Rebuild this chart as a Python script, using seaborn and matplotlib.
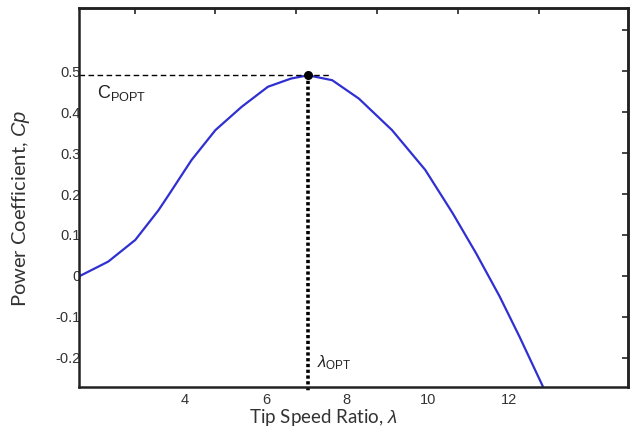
import numpy as np
import pandas as pd
import matplotlib
matplotlib.use("Agg")
import matplotlib.pyplot as plt
import seaborn as sns

# Cp - lambda curve
tsr = [1.40, 2.10, 2.77, 3.34, 3.59, 4.16, 4.75, 5.40, 6.05, 6.62, 7.04,
       7.64, 8.30, 9.12, 9.94, 10.62, 11.20, 11.78, 12.27, 12.85]
cp = [0.000, 0.035, 0.088, 0.160, 0.197, 0.283, 0.356, 0.413, 0.462, 0.482, 0.490,
      0.478, 0.433, 0.356, 0.259, 0.153, 0.055, -0.050, -0.148, -0.270]

x_ticks = [4, 6, 8, 10, 12]
y_ticks = [-0.2, -0.1, 0, 0.1, 0.2, 0.3, 0.4, 0.5]
y_tick_labels = ["-0.2", "-0.1", "0", "0.1", "0.2", "0.3", "0.4", "0.5"]
top_ticks = [2.75, 4.75, 6.75, 8.75, 10.75, 12.75]
right_ticks = [-0.2, -0.1, 0, 0.1, 0.2, 0.3, 0.4, 0.5, 0.6]

df = pd.DataFrame({"tsr": tsr, "cp": cp})
i_opt = int(np.argmax(df["cp"]))
lambda_opt = df["tsr"][i_opt]
cp_opt = df["cp"][i_opt]

sns.set_style("white")
plt.rcParams["font.family"] = ["Liberation Sans", "DejaVu Sans"]
plt.rcParams["mathtext.fontset"] = "custom"
plt.rcParams["mathtext.rm"] = "Liberation Sans"
plt.rcParams["mathtext.it"] = "Liberation Sans:italic"

fig = plt.figure(figsize=(6.38, 4.28), dpi=100)
ax = fig.add_axes([0.124, 0.096, 0.860, 0.885])

sns.lineplot(data=df, x="tsr", y="cp", ax=ax, color="#2f2fd2", lw=1.6)

xmin, xmax = 1.38, 14.95
ymin, ymax = -0.271, 0.654
ax.set_xlim(xmin, xmax)
ax.set_ylim(ymin, ymax)

# optimum markers
ax.plot([xmin, lambda_opt + 0.55], [cp_opt, cp_opt], color="black",
        lw=1.0, ls=(0, (4, 2.5)))
ax.plot([lambda_opt, lambda_opt], [cp_opt, -0.283], color="black",
        lw=2.6, ls=(0, (0.9, 0.7)), clip_on=False)
ax.plot([lambda_opt], [cp_opt], "o", color="black", ms=5.5)

ax.text(1.83, 0.434, r"C$_{\mathrm{POPT}}$", fontsize=13, color="#222222", va="baseline")
ax.text(7.26, -0.224, r"$\lambda_{\mathrm{OPT}}$", fontsize=12, color="#222222", va="baseline")

ax.set_xticks(x_ticks)
ax.set_yticks(y_ticks)
ax.set_yticklabels(y_tick_labels)
ax.tick_params(direction="in", length=4, width=1.2, labelsize=10.5,
               labelcolor="#333333")
ax.tick_params(axis="x", pad=4.5)
ax.tick_params(axis="y", pad=-1)

top = ax.secondary_xaxis("top")
top.set_xticks(top_ticks)
top.tick_params(direction="in", length=4, width=1.2, labeltop=False)
right = ax.secondary_yaxis("right")
right.set_yticks(right_ticks)
right.tick_params(direction="in", length=4, width=1.2, labelright=False)
for a in (ax, top, right):
    for s in a.spines.values():
        s.set_linewidth(1.8)
        s.set_color("#222222")

ax.set_xlabel(r"Tip Speed Ratio, $\lambda$", fontsize=13.5, color="#333333",
              family=["Lato", "DejaVu Sans"])
ax.set_ylabel(r"Power Coefficient, $\mathit{Cp}$", fontsize=14.5, color="#333333",
              family=["Lato", "DejaVu Sans"])
ax.xaxis.set_label_coords(0.446, -0.052)
ax.yaxis.set_label_coords(-0.086, 0.47)

fig.savefig("out.png", dpi=100)
